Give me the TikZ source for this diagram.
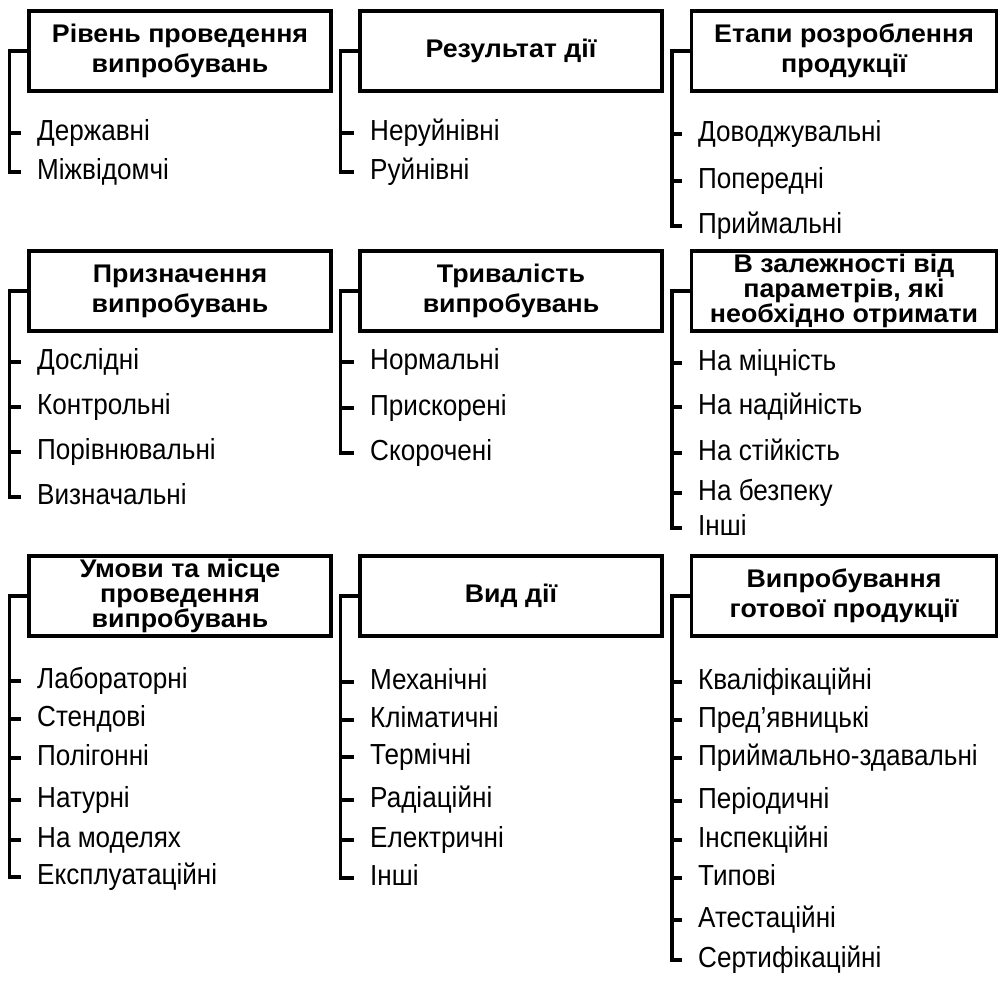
\documentclass[tikz,border=0pt]{standalone}
\usepackage{fontspec}
\setmainfont{Liberation Sans}
\newfontfamily\headfont[FakeStretch=1.05]{Liberation Sans}
\newfontfamily\leaffont[FakeStretch=0.9]{Liberation Sans}
\usetikzlibrary{positioning}

\begin{document}
\begin{tikzpicture}[x=1pt, y=-1pt,
    group/.style={rectangle, draw, line width=3.5pt, minimum width=302pt, minimum height=80pt, inner sep=0pt, align=center, font=\headfont\fontsize{25.5}{30}\selectfont\bfseries},
    leaf/.style={anchor=west, inner sep=0pt, font=\leaffont\fontsize{29}{30}\selectfont, text height=21pt, text depth=7pt},
    tree/.style={line width=3.5pt, line join=miter},
]
    \useasboundingbox (0,0) rectangle (1004,982);

    % classification groups
    \node[group] (level) at (180,51) {Рівень проведення\\випробувань};
    \node[group] (result) at (511,51) {Результат дії};
    \node[group, minimum width=305pt] (stages) at (844,51) {Етапи розроблення\\продукції};
    \node[group] (purpose) at (180,291) {Призначення\\випробувань};
    \node[group] (duration) at (511,291) {Тривалість\\випробувань};
    \node[group, minimum width=305pt, font=\headfont\fontsize{25.5}{22.5}\selectfont\bfseries] (params) at (844,291) {В залежності від\\параметрів, які\\необхідно отримати};
    \node[group, font=\headfont\fontsize{25.5}{25}\selectfont\bfseries] (place) at (180,596) {Умови та місце\\проведення\\випробувань};
    \node[group] (action) at (511,596) {Вид дії};
    \node[group, minimum width=305pt] (final) at (844,596) {Випробування\\готової продукції};

    % kinds of tests
    \node[leaf] (level1) at (37,133) {Державні};
    \node[leaf] (level2) at (37,172) {Міжвідомчі};

    \node[leaf] (result1) at (370,133) {Неруйнівні};
    \node[leaf] (result2) at (370,172) {Руйнівні};

    \node[leaf] (stages1) at (698,134) {Доводжувальні};
    \node[leaf] (stages2) at (698,181) {Попередні};
    \node[leaf] (stages3) at (698,226) {Приймальні};

    \node[leaf] (purpose1) at (37,362) {Дослідні};
    \node[leaf] (purpose2) at (37,407) {Контрольні};
    \node[leaf] (purpose3) at (37,452) {Порівнювальні};
    \node[leaf] (purpose4) at (37,497) {Визначальні};

    \node[leaf] (duration1) at (370,362) {Нормальні};
    \node[leaf] (duration2) at (370,408) {Прискорені};
    \node[leaf] (duration3) at (370,453) {Скорочені};

    \node[leaf] (params1) at (698,363) {На міцність};
    \node[leaf] (params2) at (698,407) {На надійність};
    \node[leaf] (params3) at (698,453) {На стійкість};
    \node[leaf] (params4) at (698,493) {На безпеку};
    \node[leaf] (params5) at (698,528) {Інші};

    \node[leaf] (place1) at (37,681) {Лабораторні};
    \node[leaf] (place2) at (37,719) {Стендові};
    \node[leaf] (place3) at (37,758) {Полігонні};
    \node[leaf] (place4) at (37,800) {Натурні};
    \node[leaf] (place5) at (37,840) {На моделях};
    \node[leaf] (place6) at (37,877) {Експлуатаційні};

    \node[leaf] (action1) at (370,682) {Механічні};
    \node[leaf] (action2) at (370,720) {Кліматичні};
    \node[leaf] (action3) at (370,757) {Термічні};
    \node[leaf] (action4) at (370,800) {Радіаційні};
    \node[leaf] (action5) at (370,840) {Електричні};
    \node[leaf] (action6) at (370,878) {Інші};

    \node[leaf] (final1) at (698,682) {Кваліфікаційні};
    \node[leaf] (final2) at (698,720) {Пред’явницькі};
    \node[leaf] (final3) at (698,758) {Приймально-здавальні};
    \node[leaf] (final4) at (698,801) {Періодичні};
    \node[leaf] (final5) at (698,840) {Інспекційні};
    \node[leaf] (final6) at (698,878) {Типові};
    \node[leaf] (final7) at (698,920) {Атестаційні};
    \node[leaf] (final8) at (698,960) {Сертифікаційні};

    % tree lines
    \foreach \g/\n in {level/2, result/2, stages/3, purpose/4, duration/3, params/5, place/6, action/6, final/8}
        \foreach \i in {1,...,\n}
            \draw[tree] (\g.west) -- ++(-18,0) |- ([xshift=-16pt]\g\i.west);
\end{tikzpicture}
\end{document}
